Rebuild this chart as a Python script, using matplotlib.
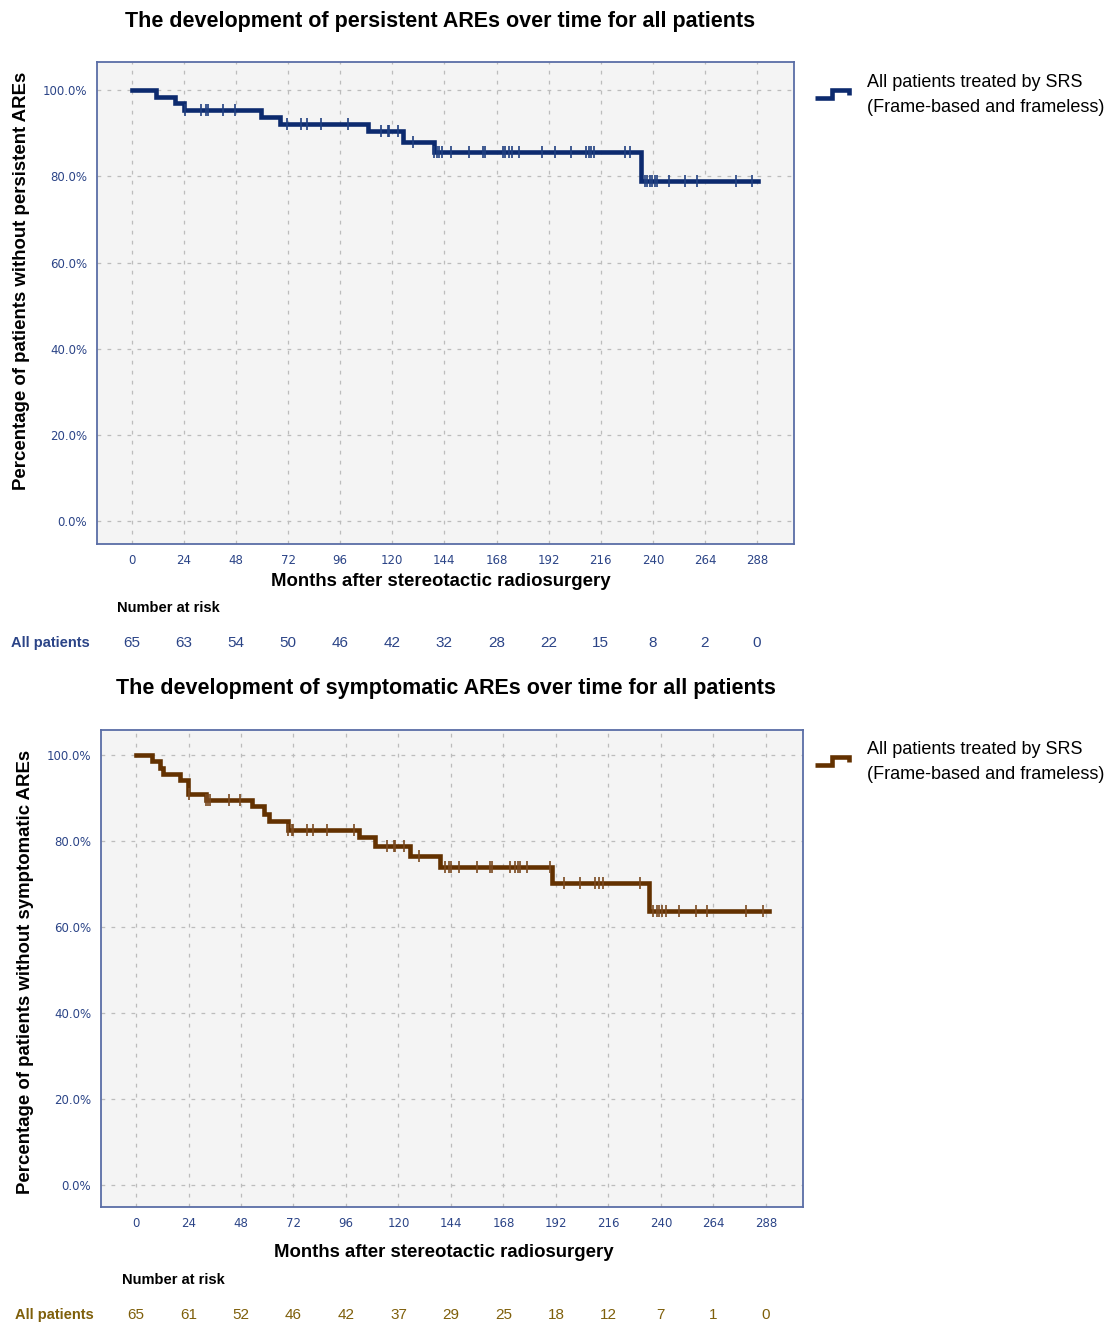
import numpy as np
import matplotlib
matplotlib.use("Agg")
import matplotlib.pyplot as plt
from matplotlib.lines import Line2D
from matplotlib.legend_handler import HandlerBase

# Данные: кривые Каплана-Мейера (месяцы, %)
months_ticks = [0, 24, 48, 72, 96, 120, 144, 168, 192, 216, 240, 264, 288]
pct_ticks = [0, 20, 40, 60, 80, 100]

# persistent AREs
step_t_pers = [0, 11.4, 19.8, 24, 59.6, 68.5, 108.7, 124.8, 139.4, 234.4, 288.5]
step_s_pers = [100, 98.5, 96.9, 95.4, 93.8, 92.2, 90.5, 88.0, 85.6, 78.8, 78.8]
cens_pers = [24.4, 32, 34.4, 35, 42, 47.4, 71.6, 78, 80.6, 87.3, 99.5, 114.9, 118,
             118.7, 122.5, 129.4, 139.4, 140.4, 141.6, 142.7, 147.1, 155.2, 161.6,
             162.7, 170.8, 172.1, 173.6, 175.1, 178.2, 188.9, 195.1, 202.3, 209.2,
             210.4, 211.5, 213, 227.2, 229.5, 236.4, 237.5, 238.6, 239.8, 241, 242.1,
             247.5, 254.8, 260.5, 278.1, 285.8]
risk_pers = [65, 63, 54, 50, 46, 42, 32, 28, 22, 15, 8, 2, 0]

# symptomatic AREs
step_t_symp = [0, 7.2, 11, 12.5, 20.1, 23.9, 32, 53, 58.3, 60.6, 69.7, 101.8,
               109.4, 125.5, 139.2, 190.3, 234.6, 289.5]
step_s_symp = [100, 98.5, 96.9, 95.5, 94.2, 91.0, 89.6, 88.1, 86.4, 84.7, 82.6,
               80.9, 78.8, 76.5, 74.0, 70.2, 63.8, 63.8]
cens_symp = [24.3, 32, 33.1, 33.9, 42.3, 47.6, 69.7, 71.3, 72, 78.2, 80.8, 87.4,
             99.5, 114.8, 117.8, 118.6, 122.4, 129.3, 141.5, 143, 144.1, 147.6,
             155.7, 161.8, 162.9, 171.2, 173.5, 174.6, 175.8, 178.9, 189.2, 195.6,
             202.8, 209.8, 211.7, 213.5, 230.5, 236.6, 238, 239.2, 240.7, 242.2,
             248.3, 256, 261.3, 278.8, 286.5]
risk_symp = [65, 61, 52, 46, 42, 37, 29, 25, 18, 12, 7, 1, 0]

legend_label = "All patients treated by SRS\n(Frame-based and frameless)"

SANS = ['Liberation Sans', 'DejaVu Sans']
TICK_COL = '#2b4487'
FRAME_COL = '#5a6da6'


class StepHandler(HandlerBase):
    # значок легенды в виде ступеньки
    def create_artists(self, legend, orig_handle, xdescent, ydescent,
                       width, height, fontsize, trans):
        xs = np.array([0, 0.5, 0.5, 1, 1]) * width - xdescent
        ys = np.array([0.3, 0.3, 0.95, 0.95, 0.55]) * height - ydescent
        ln = Line2D(xs, ys, color=orig_handle.get_color(),
                    lw=orig_handle.get_linewidth(), solid_joinstyle='miter',
                    solid_capstyle='butt')
        ln.set_transform(trans)
        return [ln]


def km_panel(ax, st, ss, cens, risk, color, cens_color, risk_color, ylabel,
             ylab_x, ylab_y, xlab_x, xlab_y, risk_y, nar_y, allp_x):
    ax.set_facecolor('#f4f4f4')
    line, = ax.step(st, ss, where='post', color=color, lw=3.3,
                    solid_joinstyle='miter')
    idx = np.searchsorted(st, cens, side='right') - 1
    ax.plot(cens, np.array(ss)[idx], linestyle='none', marker='|',
            markersize=9, mew=1.2, color=cens_color)

    ax.set_xlim(-16, 305)
    ax.set_ylim(-5.3, 106.5)
    ax.set_xticks(months_ticks)
    ax.set_yticks(pct_ticks)
    ax.set_yticklabels([f"{v:.1f}%" for v in pct_ticks])
    ax.tick_params(length=0, labelsize=8.5, labelcolor=TICK_COL, pad=7)
    ax.grid(True, color='#bcbcbc', linestyle=(0, (3, 5)), lw=0.9)
    ax.set_axisbelow(True)
    for sp in ax.spines.values():
        sp.set_color(FRAME_COL)
        sp.set_linewidth(1.3)

    ax.set_ylabel(ylabel, family=SANS, fontweight='bold', fontsize=13.4)
    ax.yaxis.set_label_coords(ylab_x, ylab_y)
    ax.set_xlabel("Months after stereotactic radiosurgery", family=SANS,
                  fontweight='bold', fontsize=13.4)
    ax.xaxis.set_label_coords(xlab_x, xlab_y)

    tr = ax.get_xaxis_transform()
    ax.text(-6.6, nar_y, "Number at risk", transform=tr, ha='left', va='center',
            family=SANS, fontweight='bold', fontsize=10.5)
    ax.text(allp_x, risk_y, "All patients", transform=ax.transAxes, ha='left',
            va='center', family=SANS, fontweight='bold', fontsize=10.5,
            color=risk_color)
    for m, n in zip(months_ticks, risk):
        ax.text(m, risk_y, str(n), transform=tr, ha='center', va='center',
                family=SANS, fontsize=11, color=risk_color)
    return line


fig = plt.figure(figsize=(11.2, 13.26), dpi=100)

ax1 = fig.add_axes([0.0866, 0.5897, 0.6223, 0.3635])
l1 = km_panel(ax1, step_t_pers, step_s_pers, cens_pers, risk_pers,
              '#0c2a6e', '#203f80', '#2b4487',
              "Percentage of patients without persistent AREs",
              -0.096, 0.5456, 0.4935, -0.060, -0.2054, -0.133, -0.1234)

ax2 = fig.add_axes([0.0902, 0.0897, 0.6268, 0.3597])
l2 = km_panel(ax2, step_t_symp, step_s_symp, cens_symp, risk_symp,
              '#633100', '#7a4a20', '#7f5f0a',
              "Percentage of patients without symptomatic AREs",
              -0.0954, 0.4927, 0.4886, -0.0776, -0.2264, -0.153, -0.1225)
ax2.set_ylim(-5.1, 105.8)

fig.text(0.3929, 1 - 21 / 1326, "The development of persistent AREs over time for all patients",
         ha='center', va='center', family=SANS, fontweight='bold', fontsize=15.5)
fig.text(0.398, 1 - 688 / 1326, "The development of symptomatic AREs over time for all patients",
         ha='center', va='center', family=SANS, fontweight='bold', fontsize=15.5)

for ln, y in [(l1, 1 - 58 / 1326), (l2, 1 - 725 / 1326)]:
    leg = fig.legend([ln], [legend_label], loc='upper left',
                     bbox_to_anchor=(0.713, y), frameon=False,
                     handler_map={Line2D: StepHandler()}, handlelength=1.9,
                     handletextpad=1.0,
                     prop={'family': SANS, 'size': 13})
    leg.get_texts()[0].set_linespacing(1.6)

fig.savefig("out.png", dpi=100)
